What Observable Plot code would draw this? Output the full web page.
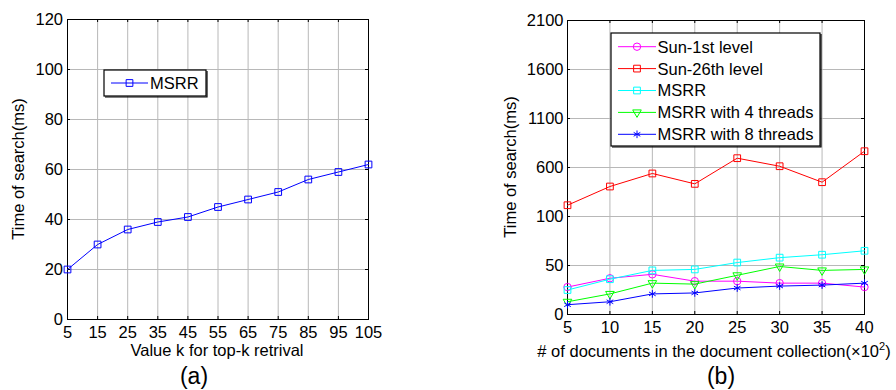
<!DOCTYPE html>
<html><head><meta charset="utf-8">
<script src="https://cdn.jsdelivr.net/npm/d3@7"></script>
<script src="https://cdn.jsdelivr.net/npm/@observablehq/plot@0.6"></script>
<style>
body{margin:0;background:#fff;}
#root{position:relative;width:896px;height:390px;overflow:hidden;font-family:"Liberation Sans",Arial,sans-serif;color:#000;}
.panel{position:absolute;top:0;}
.lbl{position:absolute;font-size:16.5px;white-space:nowrap;transform:translate(-50%,-50%);line-height:1;}
.rot{transform:translate(-50%,-50%) rotate(-90deg);}
.cap{font-size:23px;line-height:1.05;}
svg.leg{position:absolute;left:0;top:0;overflow:visible;pointer-events:none;}
</style></head><body><div id="root"></div>
<script>
// ---- Panel (a) data ----
const kValues = [5, 15, 25, 35, 45, 55, 65, 75, 85, 95, 105];
const msrrA = [20, 30, 36, 39, 41, 45, 48, 51, 56, 59, 62];
const aYTicks = [0, 20, 40, 60, 80, 100, 120];

// ---- Panel (b) data ----
const docCounts = [5, 10, 15, 20, 25, 30, 35, 40];
const sun1st = [28, 37, 41, 34, 34, 32, 32, 28];
const sun26th = [215, 406, 539, 433, 695, 613, 450, 766];
const msrrB = [25, 36, 45, 46, 53, 58, 61, 65];
const msrr4 = [13, 21, 32, 31, 40, 49, 45, 46];
const msrr8 = [10, 13, 21, 22, 27, 29, 30, 32];
const bYTicks = [0, 50, 100, 600, 1100, 1600, 2100];

const seriesNames = ["Sun-1st level", "Sun-26th level", "MSRR", "MSRR with 4 threads", "MSRR with 8 threads"];
const seriesValues = [sun1st, sun26th, msrrB, msrr4, msrr8];
const seriesColors = ["#ff00ff", "#ff0000", "#00ffff", "#00ff00", "#0000ff"];
const seriesSymbols = ["circle", "square", "square", "triangle", "asterisk"];
const seriesR = [3.7, 3.8, 3.8, 3.2, 3.6];
const seriesRotate = [0, 0, 0, 180, 0];

const root = document.getElementById("root");
const FONT = '"Liberation Sans", Arial, sans-serif';
const GRID = "#b8b8b8";
const fmt = d => String(d);

function seriesMarks(xs, ys, color, symbol, r, rotate) {
  const data = xs.map((x, i) => ({x, y: ys[i]}));
  return [
    Plot.line(data, {x: "x", y: "y", stroke: color, strokeWidth: 1}),
    Plot.dot(data, {x: "x", y: "y", stroke: color, symbol, r, rotate, strokeWidth: 1, fill: "none"})
  ];
}

function frameMarks(xt, yt, fw, fh) {
  return [
    Plot.ruleX(xt, {x: d => d, stroke: GRID, strokeWidth: 1}),
    Plot.ruleY(yt, {y: d => d, stroke: GRID, strokeWidth: 1}),
    Plot.tickX(xt, {x: d => d, insetTop: fh - 3, stroke: "black"}),
    Plot.tickX(xt, {x: d => d, insetBottom: fh - 3, stroke: "black"}),
    Plot.tickY(yt, {y: d => d, insetRight: fw - 3, stroke: "black"}),
    Plot.tickY(yt, {y: d => d, insetLeft: fw - 3, stroke: "black"}),
    Plot.frame({stroke: "black", strokeWidth: 1})
  ];
}

// Panel (a)
const plotA = Plot.plot({
  width: 448, height: 390,
  marginLeft: 67, marginRight: 80, marginTop: 19, marginBottom: 71,
  style: {fontFamily: FONT, fontSize: "16.5px", color: "black", background: "transparent", overflow: "visible"},
  x: {domain: [5, 105], ticks: kValues, tickFormat: fmt, tickSize: 0, tickPadding: 7, label: null},
  y: {domain: [0, 120], ticks: aYTicks, tickFormat: fmt, tickSize: 0, tickPadding: 4.5, label: null},
  marks: [
    ...frameMarks(kValues, aYTicks, 301, 300),
    ...seriesMarks(kValues, msrrA, "#0000ff", "square", 3.8, 0)
  ]
});
const pa = document.createElement("div");
pa.className = "panel"; pa.style.left = "0px";
pa.appendChild(plotA);
root.appendChild(pa);

// Panel (b)
const marksB = [...frameMarks(docCounts, bYTicks, 297, 294)];
seriesValues.forEach((vals, i) => {
  marksB.push(...seriesMarks(docCounts, vals, seriesColors[i], seriesSymbols[i], seriesR[i], seriesRotate[i]));
});
const plotB = Plot.plot({
  width: 448, height: 390,
  marginLeft: 119, marginRight: 32, marginTop: 20, marginBottom: 76,
  style: {fontFamily: FONT, fontSize: "16.5px", color: "black", background: "transparent", overflow: "visible"},
  x: {domain: [5, 40], ticks: docCounts, tickFormat: fmt, tickSize: 0, tickPadding: 7, label: null},
  y: {type: "linear", domain: bYTicks, ticks: bYTicks, tickFormat: fmt, tickSize: 0, tickPadding: 4, label: null},
  marks: marksB
});
const pb = document.createElement("div");
pb.className = "panel"; pb.style.left = "448px";
pb.appendChild(plotB);
root.appendChild(pb);

// Labels
function label(text, x, y, cls) {
  const d = document.createElement("div");
  d.className = "lbl" + (cls ? " " + cls : "");
  d.style.left = x + "px"; d.style.top = y + "px";
  d.innerHTML = text;
  root.appendChild(d);
}
label("Time of search(ms)", 18, 169, "rot");
label("Value k for top-k retrival", 217, 350);
label("(a)", 194, 376, "cap");
label("Time of search(ms)", 510, 167, "rot");
label("# of documents in the document collection(&times;10<sup style=\"font-size:11px;vertical-align:7px;line-height:0\">2</sup>)", 714, 351);
label("(b)", 721, 376, "cap");

// Legends (SVG overlay)
const NS = "http://www.w3.org/2000/svg";
const leg = document.createElementNS(NS, "svg");
leg.setAttribute("class", "leg");
leg.setAttribute("width", 896); leg.setAttribute("height", 390);
root.appendChild(leg);
const L = d3.select(leg);

function legendBox(x0, y0, x1, y1) {
  L.append("rect").attr("x", x0).attr("y", y0).attr("width", x1 - x0).attr("height", y1 - y0)
    .attr("fill", "white").attr("stroke", "black").attr("stroke-width", 1.2);
  L.append("path").attr("d", `M${x0 + 1},${y1 + 1}H${x1 + 1}V${y0 + 1}`)
    .attr("fill", "none").attr("stroke", "black").attr("stroke-width", 1.2);
}
function legendRow(y, lx0, lx1, tx, color, symbol, r, rotate, name) {
  L.append("line").attr("x1", lx0).attr("x2", lx1).attr("y1", y).attr("y2", y)
    .attr("stroke", color).attr("stroke-width", 1);
  const typ = {circle: d3.symbolCircle, square: d3.symbolSquare, triangle: d3.symbolTriangle, asterisk: d3.symbolAsterisk}[symbol];
  L.append("path").attr("d", d3.symbol(typ, r * r * Math.PI)())
    .attr("transform", `translate(${(lx0 + lx1) / 2},${y}) rotate(${rotate})`)
    .attr("fill", "none").attr("stroke", color).attr("stroke-width", 1);
  L.append("text").attr("x", tx).attr("y", y).attr("dy", "0.36em")
    .attr("font-family", FONT).attr("font-size", "16.5px").attr("fill", "black").text(name);
}

legendBox(104, 70, 206, 96);
legendRow(83, 111, 148, 150, "#0000ff", "square", 3.8, 0, "MSRR");

legendBox(611, 33, 820, 146);
seriesNames.forEach((n, i) => {
  legendRow(46.7 + i * 21.9, 618, 656, 657.5, seriesColors[i], seriesSymbols[i], seriesR[i], seriesRotate[i], n);
});
</script>
</body></html>
